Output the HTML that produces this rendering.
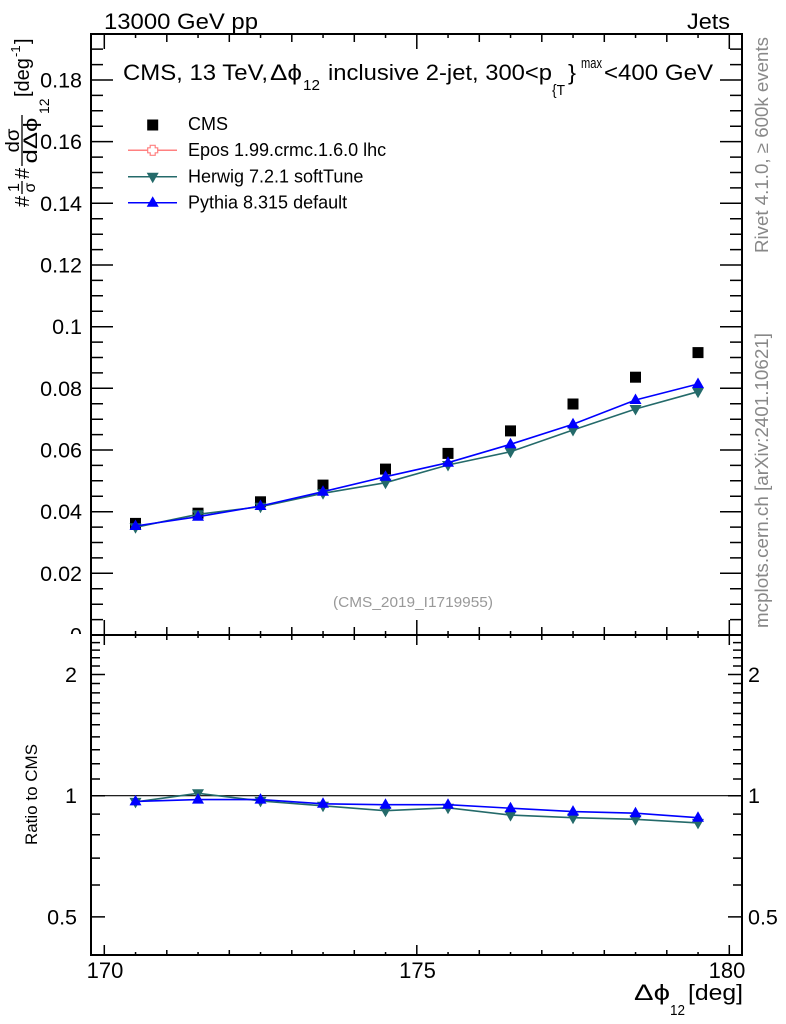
<!DOCTYPE html>
<html>
<head>
<meta charset="utf-8">
<style>
html,body{margin:0;padding:0;background:#fff;}
svg{display:block;}
text{font-family:"Liberation Sans",Arial,sans-serif;}
</style>
</head>
<body>
<svg width="786" height="1024" viewBox="0 0 786 1024" xmlns="http://www.w3.org/2000/svg">
<rect x="0" y="0" width="786" height="1024" fill="#fff"/>
<defs>
<clipPath id="topclip"><rect x="0" y="0" width="786" height="634"/></clipPath>
</defs>

<!-- header texts -->
<text x="104" y="29" font-size="22" textLength="154" lengthAdjust="spacingAndGlyphs">13000 GeV pp</text>
<text x="687" y="29" font-size="22" textLength="43" lengthAdjust="spacingAndGlyphs">Jets</text>

<!-- title -->
<text x="123" y="80" font-size="22" textLength="145" lengthAdjust="spacingAndGlyphs">CMS, 13 TeV,</text>
<text x="270" y="80" font-size="22" textLength="32" lengthAdjust="spacingAndGlyphs">Δϕ</text>
<text x="303" y="90" font-size="15" textLength="17" lengthAdjust="spacingAndGlyphs">12</text>
<text x="328" y="80" font-size="22" textLength="224" lengthAdjust="spacingAndGlyphs">inclusive 2-jet, 300&lt;p</text>
<text x="552" y="95" font-size="15" textLength="13" lengthAdjust="spacingAndGlyphs">{T</text>
<text x="568" y="80" font-size="22" textLength="8" lengthAdjust="spacingAndGlyphs">}</text>
<text x="581" y="68" font-size="15" textLength="21" lengthAdjust="spacingAndGlyphs">max</text>
<text x="604" y="80" font-size="22" textLength="109" lengthAdjust="spacingAndGlyphs">&lt;400 GeV</text>

<!-- legend -->
<rect x="147.2" y="119.5" width="11" height="11" fill="#000"/>
<text x="188" y="130" font-size="18">CMS</text>
<line x1="128" y1="150.3" x2="177" y2="150.3" stroke="#ff8080" stroke-width="1.5"/>
<path d="M150.2,145.3h5v2.5h2.5v5h-2.5v2.5h-5v-2.5h-2.5v-5h2.5Z" fill="#fff" stroke="#ff8080" stroke-width="1.2"/>
<text x="188" y="156" font-size="18">Epos 1.99.crmc.1.6.0 lhc</text>
<line x1="128" y1="176.7" x2="177" y2="176.7" stroke="#246a6a" stroke-width="1.5"/>
<path d="M146.7,172.7L158.7,172.7L152.7,183.2Z" fill="#246a6a"/>
<text x="188" y="182.7" font-size="18">Herwig 7.2.1 softTune</text>
<line x1="128" y1="202.7" x2="177" y2="202.7" stroke="#0000ff" stroke-width="1.5"/>
<path d="M146.7,206.7L158.7,206.7L152.7,196.2Z" fill="#0000ff"/>
<text x="188" y="208.3" font-size="18">Pythia 8.315 default</text>

<!-- y axis label (rotated) -->
<g transform="translate(29,207) rotate(-90)">
<text x="0" y="0" font-size="20">#</text>
<text x="19.5" y="-10" font-size="16" text-anchor="middle">1</text>
<line x1="13" y1="-7" x2="26" y2="-7" stroke="#000" stroke-width="1.3"/>
<text x="19.5" y="6" font-size="16" text-anchor="middle">σ</text>
<text x="28" y="0" font-size="20">#</text>
<text x="66.5" y="-10" font-size="19" text-anchor="middle" textLength="24" lengthAdjust="spacingAndGlyphs">dσ</text>
<line x1="41" y1="-7" x2="92" y2="-7" stroke="#000" stroke-width="1.3"/>
<text x="66.5" y="8" font-size="19" text-anchor="middle" textLength="46" lengthAdjust="spacingAndGlyphs">dΔϕ</text>
<text x="93" y="20" font-size="14">12</text>
<text x="110" y="0" font-size="20">[deg</text>
<text x="150" y="-9" font-size="13">-1</text>
<text x="163" y="0" font-size="20">]</text>
</g>

<!-- right-hand gray labels -->
<text transform="translate(768,145) rotate(-90)" text-anchor="middle" font-size="18" fill="#888" textLength="216" lengthAdjust="spacingAndGlyphs">Rivet 4.1.0, ≥ 600k events</text>
<text transform="translate(768,480.5) rotate(-90)" text-anchor="middle" font-size="18" fill="#888" textLength="295" lengthAdjust="spacingAndGlyphs">mcplots.cern.ch [arXiv:2401.10621]</text>

<!-- analysis id -->
<text x="333" y="607" font-size="15" fill="#999" textLength="160" lengthAdjust="spacingAndGlyphs">(CMS_2019_I1719955)</text>

<!-- top panel y tick labels -->
<g font-size="21.5" text-anchor="end">
<text x="82" y="87.5">0.18</text>
<text x="82" y="149.1">0.16</text>
<text x="82" y="210.8">0.14</text>
<text x="82" y="272.5">0.12</text>
<text x="82" y="334.2">0.1</text>
<text x="82" y="395.8">0.08</text>
<text x="82" y="457.5">0.06</text>
<text x="82" y="519.2">0.04</text>
<text x="82" y="580.8">0.02</text>
<text x="82" y="642.5" clip-path="url(#topclip)">0</text>
</g>

<!-- ratio y tick labels -->
<g font-size="21.5">
<text x="77" y="682" text-anchor="end">2</text>
<text x="77" y="803.2" text-anchor="end">1</text>
<text x="77" y="924.4" text-anchor="end">0.5</text>
<text x="748" y="682">2</text>
<text x="748" y="803.2">1</text>
<text x="748" y="924.4">0.5</text>
</g>

<!-- x tick labels -->
<g font-size="22" text-anchor="middle">
<text x="105" y="978">170</text>
<text x="417.5" y="978">175</text>
<text x="727" y="978">180</text>
</g>

<!-- x axis title -->
<text x="634" y="1000" font-size="22" textLength="36" lengthAdjust="spacingAndGlyphs">Δϕ</text>
<text x="670" y="1015" font-size="15" textLength="15" lengthAdjust="spacingAndGlyphs">12</text>
<text x="688" y="1000" font-size="22" textLength="55" lengthAdjust="spacingAndGlyphs">[deg]</text>

<!-- ratio y label -->
<text transform="translate(37,794.5) rotate(-90)" text-anchor="middle" font-size="17">Ratio to CMS</text>

<!-- ticks -->
<g stroke="#000" stroke-width="1.5" fill="none">
<path d="M91,573.3h22M91,511.7h22M91,450h22M91,388.3h22M91,326.7h22M91,265h22M91,203.3h22M91,141.6h22M91,80h22"/>
<path d="M91,619.6h12M91,604.2h12M91,588.8h12M91,557.9h12M91,542.5h12M91,527.1h12M91,496.2h12M91,480.8h12M91,465.4h12M91,434.6h12M91,419.2h12M91,403.7h12M91,372.9h12M91,357.5h12M91,342.1h12M91,311.2h12M91,295.8h12M91,280.4h12M91,249.6h12M91,234.2h12M91,218.7h12M91,187.9h12M91,172.5h12M91,157.1h12M91,126.2h12M91,110.8h12M91,95.4h12M91,64.6h12M91,49.1h12"/>
<path d="M742,573.3h-22M742,511.7h-22M742,450h-22M742,388.3h-22M742,326.7h-22M742,265h-22M742,203.3h-22M742,141.6h-22M742,80h-22"/>
<path d="M742,619.6h-12M742,604.2h-12M742,588.8h-12M742,557.9h-12M742,542.5h-12M742,527.1h-12M742,496.2h-12M742,480.8h-12M742,465.4h-12M742,434.6h-12M742,419.2h-12M742,403.7h-12M742,372.9h-12M742,357.5h-12M742,342.1h-12M742,311.2h-12M742,295.8h-12M742,280.4h-12M742,249.6h-12M742,234.2h-12M742,218.7h-12M742,187.9h-12M742,172.5h-12M742,157.1h-12M742,126.2h-12M742,110.8h-12M742,95.4h-12M742,64.6h-12M742,49.1h-12"/>

<path d="M104.3,635v-15M416.8,635v-15M729.3,635v-15"/>
<path d="M166.8,635v-8M229.3,635v-8M291.8,635v-8M354.3,635v-8M479.3,635v-8M541.8,635v-8M604.3,635v-8M666.8,635v-8"/>
<path d="M135.55,635v-4M198.05,635v-4M260.55,635v-4M323.05,635v-4M385.55,635v-4M448.05,635v-4M510.55,635v-4M573.05,635v-4M635.55,635v-4M698.05,635v-4"/>
<path d="M104.3,34v15M416.8,34v15M729.3,34v15"/>
<path d="M166.8,34v8M229.3,34v8M291.8,34v8M354.3,34v8M479.3,34v8M541.8,34v8M604.3,34v8M666.8,34v8"/>
<path d="M135.55,34v4M198.05,34v4M260.55,34v4M323.05,34v4M385.55,34v4M448.05,34v4M510.55,34v4M573.05,34v4M635.55,34v4M698.05,34v4"/>

<path d="M104.3,635v10M416.8,635v10M729.3,635v10"/>
<path d="M166.8,635v5M229.3,635v5M291.8,635v5M354.3,635v5M479.3,635v5M541.8,635v5M604.3,635v5M666.8,635v5"/>
<path d="M135.55,635v3M198.05,635v3M260.55,635v3M323.05,635v3M385.55,635v3M448.05,635v3M510.55,635v3M573.05,635v3M635.55,635v3M698.05,635v3"/>
<path d="M104.3,955v-10M416.8,955v-10M729.3,955v-10"/>
<path d="M166.8,955v-5M229.3,955v-5M291.8,955v-5M354.3,955v-5M479.3,955v-5M541.8,955v-5M604.3,955v-5M666.8,955v-5"/>
<path d="M135.55,955v-3M198.05,955v-3M260.55,955v-3M323.05,955v-3M385.55,955v-3M448.05,955v-3M510.55,955v-3M573.05,955v-3M635.55,955v-3M698.05,955v-3"/>

<path d="M91,916.9h14M91,795.7h14M91,674.5h14"/>
<path d="M91,885h9M91,858.1h9M91,834.7h9M91,814.1h9M91,779h9M91,763.8h9M91,749.8h9M91,736.9h9M91,724.8h9M91,713.5h9M91,702.9h9M91,692.9h9M91,683.5h9M91,666h9M91,657.8h9M91,650.1h9M91,642.6h9"/>
<path d="M742,916.9h-14M742,795.7h-14M742,674.5h-14"/>
<path d="M742,885h-9M742,858.1h-9M742,834.7h-9M742,814.1h-9M742,779h-9M742,763.8h-9M742,749.8h-9M742,736.9h-9M742,724.8h-9M742,713.5h-9M742,702.9h-9M742,692.9h-9M742,683.5h-9M742,666h-9M742,657.8h-9M742,650.1h-9M742,642.6h-9"/>
</g>

<!-- ratio reference line -->
<line x1="91" y1="795.7" x2="742" y2="795.7" stroke="#000" stroke-width="1.2"/>

<!-- CMS squares -->
<g fill="#000">
<rect x="130" y="517.9" width="11" height="11"/>
<rect x="192.5" y="507.7" width="11" height="11"/>
<rect x="255" y="496.3" width="11" height="11"/>
<rect x="317.5" y="479.6" width="11" height="11"/>
<rect x="380" y="463.6" width="11" height="11"/>
<rect x="442.5" y="447.9" width="11" height="11"/>
<rect x="505" y="425.4" width="11" height="11"/>
<rect x="567.5" y="398.5" width="11" height="11"/>
<rect x="630" y="371.7" width="11" height="11"/>
<rect x="692.5" y="347.1" width="11" height="11"/>
</g>

<!-- Herwig -->
<polyline fill="none" stroke="#246a6a" stroke-width="1.6" points="135.5,527.3 198,514.3 260.5,506.7 323,493.3 385.5,482.7 448,465 510.5,451.7 573,430 635.5,409 698,391.7"/>
<path fill="#246a6a" d="M129.5,523.3L141.5,523.3L135.5,533.8Z M192,510.3L204,510.3L198,520.8Z M254.5,502.7L266.5,502.7L260.5,513.2Z M317,489.3L329,489.3L323,499.8Z M379.5,478.7L391.5,478.7L385.5,489.2Z M442,461L454,461L448,471.5Z M504.5,447.7L516.5,447.7L510.5,458.2Z M567,426L579,426L573,436.5Z M629.5,405L641.5,405L635.5,415.5Z M692,387.7L704,387.7L698,398.2Z"/>

<!-- Pythia -->
<polyline fill="none" stroke="#0000ff" stroke-width="1.6" points="135.5,526 198,516.7 260.5,506 323,491.7 385.5,476.7 448,462.7 510.5,444.3 573,424.3 635.5,400 698,384"/>
<path fill="#0000ff" d="M129.5,530L141.5,530L135.5,519.5Z M192,520.7L204,520.7L198,510.2Z M254.5,510L266.5,510L260.5,499.5Z M317,495.7L329,495.7L323,485.2Z M379.5,480.7L391.5,480.7L385.5,470.2Z M442,466.7L454,466.7L448,456.2Z M504.5,448.3L516.5,448.3L510.5,437.8Z M567,428.3L579,428.3L573,417.8Z M629.5,404L641.5,404L635.5,393.5Z M692,388L704,388L698,377.5Z"/>

<!-- ratio panel data -->
<polyline fill="none" stroke="#246a6a" stroke-width="1.6" points="135.5,801.9 198,793.3 260.5,800.9 323,805.8 385.5,810.7 448,807.8 510.5,815.1 573,817.7 635.5,819.3 698,822.9"/>
<path fill="#246a6a" d="M129.5,797.9L141.5,797.9L135.5,808.4Z M192,789.3L204,789.3L198,799.8Z M254.5,796.9L266.5,796.9L260.5,807.4Z M317,801.8L329,801.8L323,812.3Z M379.5,806.7L391.5,806.7L385.5,817.2Z M442,803.8L454,803.8L448,814.3Z M504.5,811.1L516.5,811.1L510.5,821.6Z M567,813.7L579,813.7L573,824.2Z M629.5,815.3L641.5,815.3L635.5,825.8Z M692,818.9L704,818.9L698,829.4Z"/>

<polyline fill="none" stroke="#0000ff" stroke-width="1.6" points="135.5,801.4 198,799.6 260.5,799.6 323,803.8 385.5,804.7 448,804.7 510.5,808.2 573,811.6 635.5,813.2 698,817.7"/>
<path fill="#0000ff" d="M129.5,805.4L141.5,805.4L135.5,794.9Z M192,803.6L204,803.6L198,793.1Z M254.5,803.6L266.5,803.6L260.5,793.1Z M317,807.8L329,807.8L323,797.3Z M379.5,808.7L391.5,808.7L385.5,798.2Z M442,808.7L454,808.7L448,798.2Z M504.5,812.2L516.5,812.2L510.5,801.7Z M567,815.6L579,815.6L573,805.1Z M629.5,817.2L641.5,817.2L635.5,806.7Z M692,821.7L704,821.7L698,811.2Z"/>

<!-- frames -->
<rect x="91" y="34" width="651" height="601" fill="none" stroke="#000" stroke-width="2"/>
<rect x="91" y="635" width="651" height="320" fill="none" stroke="#000" stroke-width="2"/>
</svg>
</body>
</html>
